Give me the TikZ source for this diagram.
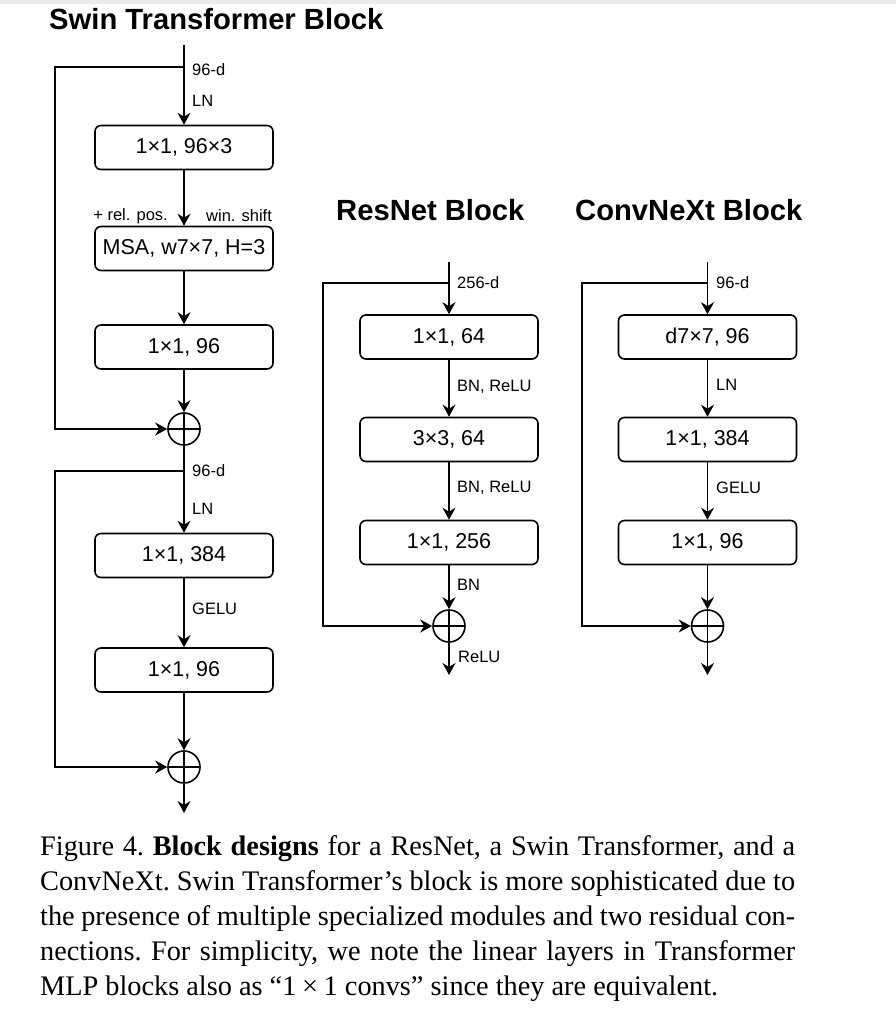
\documentclass[tikz,border=0pt]{standalone}
\usepackage{fontspec}
\setmainfont{Liberation Serif}
\newfontfamily\sansf{Liberation Sans}
\usetikzlibrary{arrows.meta}
\tikzset{
  x=1pt, y=-1pt,
  ln/.style={line width=1.8pt, line join=miter},
  arr/.style={ln, -{Stealth[length=12pt,width=13pt,inset=4pt]}},
  blk/.style={draw, line width=1.6pt, rounded corners=6pt, minimum width=178pt, minimum height=44pt,
    inner sep=0pt, font=\sansf\fontsize{21.5}{25}\selectfont},
  lbl/.style={anchor=west, inner sep=0pt, font=\sansf\fontsize{16.5}{19}\selectfont},
  ttl/.style={anchor=base west, inner sep=0pt, font=\sansf\bfseries\fontsize{29.2}{34}\selectfont},
  plusnode/.style={draw, circle, line width=1.6pt, minimum size=32pt, inner sep=0pt,
    path picture={\draw[line width=1.6pt] (path picture bounding box.north) -- (path picture bounding box.south)
      (path picture bounding box.west) -- (path picture bounding box.east);}},
  captext/.style={anchor=base west, inner sep=0pt, font=\frenchspacing\fontsize{28.3}{35}\selectfont}
}
\begin{document}
\begin{tikzpicture}
\useasboundingbox (0,0) rectangle (896,1014);
\fill[black!8] (0,0) rectangle (896,4);

% ---------- Swin Transformer Block ----------
\node[ttl] (tswin) at (49,29.5) {Swin Transformer Block};
\coordinate (s0) at (184,45);
\coordinate (sk1) at (184,67);
\coordinate (sk1l) at (55,67);
\node[blk] (s1) at (184,147.5) {1×1, 96×3};
\node[blk] (s2) at (184,248.5) {MSA, w7×7, H=3};
\node[blk] (s3) at (184,347) {1×1, 96};
\node[plusnode] (sp1) at (184,429) {};
\coordinate (sk2) at (184,471);
\coordinate (sk2l) at (55,471);
\node[blk] (s4) at (184,555.5) {1×1, 384};
\node[blk] (s5) at (184,670) {1×1, 96};
\node[plusnode] (sp2) at (184,767) {};
\coordinate (sout) at (184,813);

\draw[arr] (s0) -- (s1.north);
\draw[arr] (sk1) -- (sk1l) |- (sp1.west);
\draw[arr] (s1) -- (s2);
\draw[arr] (s2) -- (s3);
\draw[arr] (s3) -- (sp1);
\draw[arr] (sp1) -- (s4);
\draw[arr] (sk2) -- (sk2l) |- (sp2.west);
\draw[arr] (s4) -- (s5);
\draw[arr] (s5) -- (sp2);
\draw[arr] (sp2) -- (sout);

\node[lbl] (lsw1) at (192,70) {96-d};
\node[lbl] (lsw2) at (192,101) {LN};
\node[lbl, anchor=east] (lsw3) at (168,216) {+ rel. pos.};
\node[lbl] (lsw4) at (206,216) {win. shift};
\node[lbl] (lsw5) at (192,471) {96-d};
\node[lbl] (lsw6) at (192,509) {LN};
\node[lbl] (lsw7) at (192,609) {GELU};

% ---------- ResNet Block ----------
\node[ttl] (tres) at (336,220) {ResNet Block};
\coordinate (r0) at (449,262);
\coordinate (rk) at (449,283);
\coordinate (rkl) at (323,283);
\node[blk] (r1) at (449,337) {1×1, 64};
\node[blk] (r2) at (449,439.5) {3×3, 64};
\node[blk] (r3) at (449,542.5) {1×1, 256};
\node[plusnode] (rp) at (449,626) {};
\coordinate (rout) at (449,675);

\draw[arr] (r0) -- (r1.north);
\draw[arr] (rk) -- (rkl) |- (rp.west);
\draw[arr] (r1) -- (r2);
\draw[arr] (r2) -- (r3);
\draw[arr] (r3) -- (rp);
\draw[arr] (rp) -- (rout);

\node[lbl] (lr1) at (457,283) {256-d};
\node[lbl] (lr2) at (457,387) {BN, ReLU};
\node[lbl] (lr3) at (457,488) {BN, ReLU};
\node[lbl] (lr4) at (457,585) {BN};
\node[lbl] (lr5) at (458,657) {ReLU};

% ---------- ConvNeXt Block ----------
\node[ttl] (tcnx) at (575,220) {ConvNeXt Block};
\coordinate (c0) at (707.5,262);
\coordinate (ck) at (707.5,283);
\coordinate (ckl) at (582,283);
\node[blk] (c1) at (707.5,337) {d7×7, 96};
\node[blk] (c2) at (707.5,439.5) {1×1, 384};
\node[blk] (c3) at (707.5,542.5) {1×1, 96};
\node[plusnode] (cp) at (707.5,626) {};
\coordinate (cout) at (707.5,675);

\draw[arr] (c0) -- (c1.north);
\draw[arr] (ck) -- (ckl) |- (cp.west);
\draw[arr] (c1) -- (c2);
\draw[arr] (c2) -- (c3);
\draw[arr] (c3) -- (cp);
\draw[arr] (cp) -- (cout);

\node[lbl] (lc1) at (716,283) {96-d};
\node[lbl] (lc2) at (716,385) {LN};
\node[lbl] (lc3) at (716,488) {GELU};

% ---------- Caption ----------
\node[captext] (cap1) at (40,855) {\makebox[755pt][s]{Figure 4. \textbf{Block designs} for a ResNet, a Swin Transformer, and a}};
\node[captext] (cap2) at (40,890) {\makebox[755pt][s]{ConvNeXt. Swin Transformer’s block is more sophisticated due to}};
\node[captext] (cap3) at (40,925) {\makebox[755pt][s]{the presence of multiple specialized modules and two residual con-}};
\node[captext] (cap4) at (40,960) {\makebox[755pt][s]{nections. For simplicity, we note the linear layers in Transformer}};
\node[captext] (cap5) at (40,995) {MLP blocks also as “1\kern0.2em×\kern0.2em1 convs” since they are equivalent.};
\end{tikzpicture}
\end{document}
